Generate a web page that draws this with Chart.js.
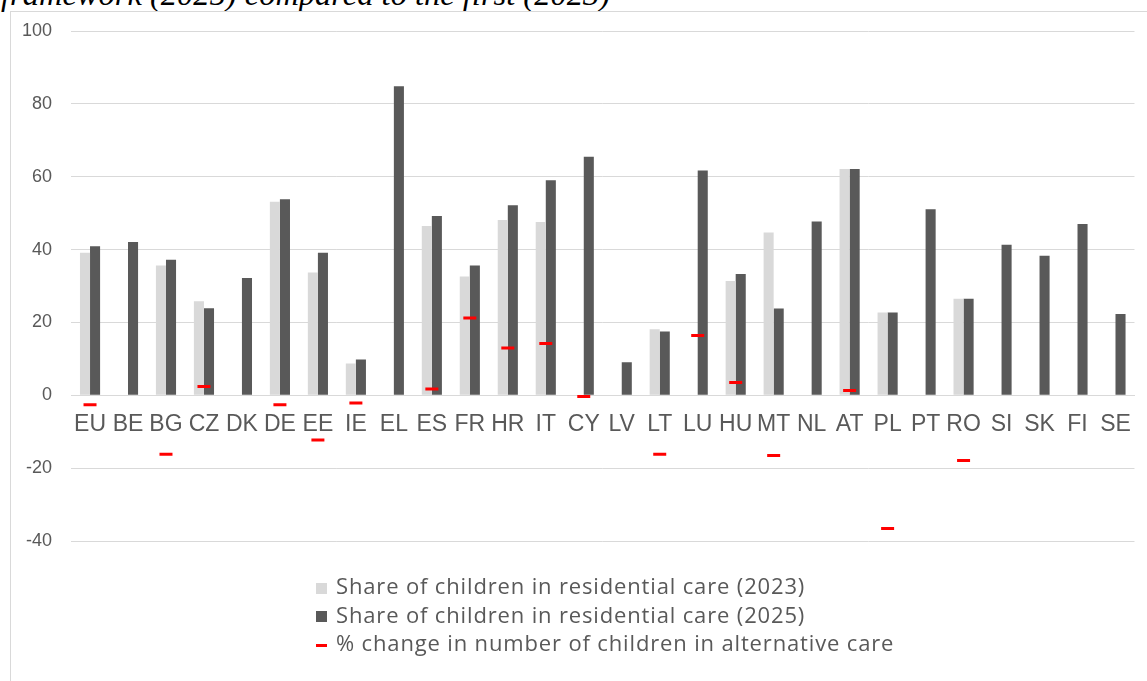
<!DOCTYPE html>
<html>
<head>
<meta charset="utf-8">
<script src="https://cdn.jsdelivr.net/npm/chart.js@4.4.1/dist/chart.umd.min.js"></script>
<style>
  html, body { margin: 0; padding: 0; background: #fff; overflow: hidden; }
  #wrap { position: relative; width: 1147px; height: 681px; }
  #frame { position: absolute; left: 10px; top: 11px; right: -5px; bottom: -5px;
           border-top: 1px solid #d9d9d9; border-left: 1px solid #d9d9d9; }
  #title { position: absolute; left: 1px; top: -24px; white-space: nowrap;
           font-family: "Liberation Serif", serif; font-style: italic; font-size: 32.5px; color: #000; }
  #chart { position: absolute; left: 0; top: 0; }
  #legend { position: absolute; left: 316px; top: 571px;
            font-family: "Open Sans", "Liberation Sans", sans-serif; font-size: 22px;
            letter-spacing: 0.85px; color: #595959; }
  .row { height: 28.5px; line-height: 28.5px; white-space: nowrap; }
  .mk { display: inline-block; vertical-align: middle; margin-right: 9px; }
</style>
</head>
<body>
<div id="wrap">
  <div id="title">framework (2025) compared to the first (2023)</div>
  <div id="frame"></div>
  <canvas id="chart" width="1147" height="681"></canvas>
  <div id="legend"></div>
</div>
<script>
// values
let countries = ["EU","BE","BG","CZ","DK","DE","EE","IE","EL","ES","FR","HR","IT","CY",
  "LV","LT","LU","HU","MT","NL","AT","PL","PT","RO","SI","SK","FI","SE"]

let share2023 = [39.1, null, 35.6, 25.8, null, 53.1, 33.7, 8.7, null, 46.5, 32.6, 48.1, 47.6, null,
  null, 18.1, null, 31.4, 44.7, null, 62.1, 22.7, null, 26.5, null, null, null, null]

let share2025 = [40.9, 42.1, 37.2, 23.9, 32.2, 53.8, 39.1, 9.8, 84.8, 49.2, 35.6, 52.2, 59.0, 65.5,
  9.1, 17.5, 61.7, 33.3, 23.8, 47.7, 62.1, 22.7, 51.1, 26.5, 41.3, 38.3, 47.0, 22.3]

let pctChange = [-2.6, null, -16.2, 2.4, null, -2.6, -12.3, -2.1, null, 1.7, 21.2, 13.0, 14.2, -0.3,
  null, -16.2, 16.4, 3.5, -16.5, null, 1.3, -36.6, null, -17.9, null, null, null, null]

let yTicks = [-40, -20, 0, 20, 40, 60, 80, 100]

let labels2023 = "Share of children in residential care (2023)"
let labels2025 = "Share of children in residential care (2025)"
let labelChange = "% change in number of children in alternative care"

let lightGrey = "#d9d9d9"
let darkGrey = "#595959"
let red = "#ff0000"

let ctx = document.getElementById("chart").getContext("2d")

const chart = new Chart(ctx, {
  type: "bar",
  data: {
    labels: countries,
    datasets: [
      {
        type: "line",
        label: labelChange,
        data: pctChange,
        showLine: false,
        pointStyle: "line",
        pointRadius: 6.5,
        pointBorderWidth: 3,
        borderColor: red,
        backgroundColor: red,
        order: 0
      },
      {
        label: labels2023,
        data: share2023,
        backgroundColor: lightGrey,
        categoryPercentage: 0.53,
        barPercentage: 1.0,
        order: 1
      },
      {
        label: labels2025,
        data: share2025,
        backgroundColor: darkGrey,
        categoryPercentage: 0.53,
        barPercentage: 1.0,
        order: 2
      }
    ]
  },
  options: {
    responsive: false,
    animation: false,
    layout: { padding: { top: 31, bottom: 140, left: 3, right: 6 } },
    plugins: {
      legend: { display: false },
      tooltip: { enabled: false }
    },
    scales: {
      x: {
        position: { y: 0 },
        grid: { display: false, drawTicks: false },
        border: { color: lightGrey, width: 1 },
        ticks: {
          color: darkGrey,
          padding: 16,
          maxRotation: 0,
          autoSkip: false,
          font: { family: "Liberation Sans", size: 23 }
        }
      },
      y: {
        min: -40,
        max: 100,
        afterBuildTicks: function(scale) {
          scale.ticks = yTicks.map(v => ({ value: v }))
        },
        grid: { color: lightGrey, lineWidth: 1, drawTicks: false },
        border: { display: false },
        ticks: {
          color: darkGrey,
          padding: 19,
          font: { family: "Liberation Sans", size: 18 }
        }
      }
    }
  }
})

// legend below the plot
let legendItems = [
  { text: labels2023, color: lightGrey, kind: "box" },
  { text: labels2025, color: darkGrey, kind: "box" },
  { text: labelChange, color: red, kind: "dash" }
]
let legendDiv = document.getElementById("legend")
legendItems.forEach(item => {
  let row = document.createElement("div")
  row.className = "row"
  let mk = document.createElement("span")
  mk.className = "mk"
  mk.style.background = item.color
  if (item.kind === "box") {
    mk.style.width = "11px"; mk.style.height = "11px"
  } else {
    mk.style.width = "11px"; mk.style.height = "3px"
  }
  row.appendChild(mk)
  row.appendChild(document.createTextNode(item.text))
  legendDiv.appendChild(row)
})
</script>
</body>
</html>
